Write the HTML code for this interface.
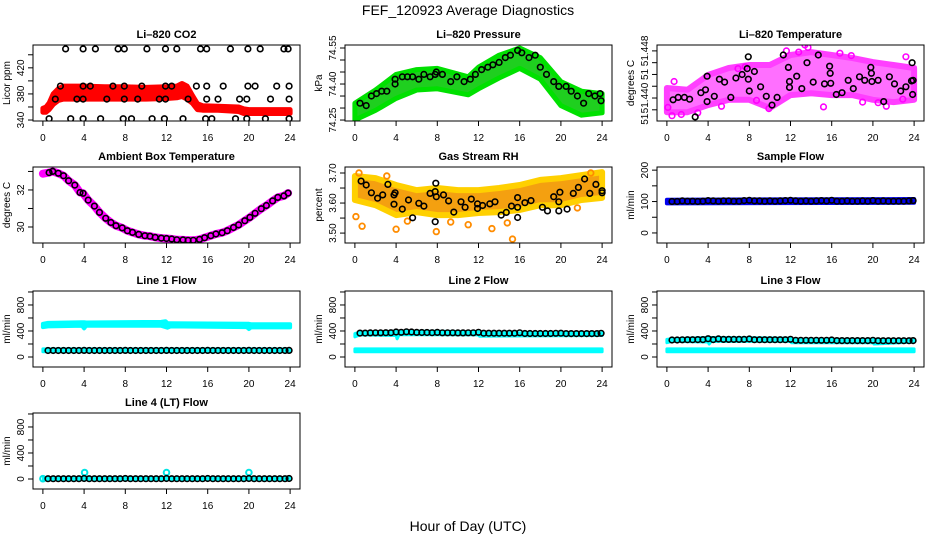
<!DOCTYPE html>
<html><head><meta charset="utf-8"><title>FEF_120923 Average Diagnostics</title>
<style>
html,body{margin:0;padding:0;background:#fff;}
svg{display:block;font-family:"Liberation Sans",Arial,sans-serif;}
.tt{font-weight:bold;font-size:11px;}
.tk{font-size:10px;}
</style></head>
<body>
<svg id="chart" width="936" height="540" viewBox="0 0 936 540" xmlns="http://www.w3.org/2000/svg">
<rect width="936" height="540" fill="#fff"/>
<text x="468" y="15" text-anchor="middle" font-size="14">FEF_120923  Average Diagnostics</text>
<text x="468" y="531" text-anchor="middle" font-size="14">Hour of Day (UTC)</text>
</svg>
<script>
// ---------- data ----------
const xTicks = [0,4,8,12,16,20,24];
// CO2
const co2BandHours = [0,0.3,0.6,1,1.5,2,4,6,8,10,12,13,13.5,14,14.5,15,15.5,17,19,19.5,20,22,24];
const co2BandLo    = [352,352,356,364,370,372,372,372,372,372,373,374,376,372,366,356,355,355,353,350,350,350,350];
const co2BandHi    = [358,360,366,380,388,392,392,391,391,390,391,392,396,392,378,365,362,361,360,357,356,356,356];
const co2BlackHours = [2.2,3.9,5.1,7.3,7.9,10.1,11.9,13.0,15.3,15.9,18.2,19.9,21.1,23.4,23.8,
  1.7,3.9,4.6,6.8,7.9,9.6,11.9,12.5,14.9,15.9,17.5,19.9,20.6,22.7,23.9,
  1.2,3.3,3.9,6.2,7.9,9.2,11.3,11.9,14.1,15.9,17.0,19.1,19.8,22.1,23.9,
  0.6,2.7,3.9,5.6,7.8,8.6,10.6,11.8,13.6,15.8,16.4,18.7,19.8,21.6,23.9];
const co2BlackVals = [449,449,449,449,449,449,449,449,449,449,449,449,449,449,449,
  392,392,392,392,392,392,392,392,392,392,392,392,392,392,392,
  372,372,372,372,372,372,372,372,372,372,372,372,372,372,372,
  342,342,342,342,342,342,342,342,342,342,342,342,342,342,342];
// Pressure
const presBandHours = [0,2,4,6,8,11,12,14,16,18,20,22,24];
const presBandLo = [74.25,74.29,74.34,74.375,74.38,74.355,74.38,74.425,74.465,74.42,74.31,74.27,74.28];
const presBandHi = [74.32,74.375,74.44,74.46,74.465,74.43,74.47,74.52,74.55,74.51,74.41,74.37,74.36];
const presBlackHours = [0.5,1.1,1.6,2.1,2.6,3.1,3.9,3.9,4.6,5.1,5.6,6.2,6.7,7.3,7.8,7.9,8.5,9.3,9.9,10.6,11.2,11.7,12.3,12.9,13.4,14.0,14.6,15.1,15.8,16.2,16.9,17.5,18.0,18.6,19.3,19.8,20.5,21.0,21.6,22.2,22.7,23.3,23.8,23.9];
const presBlackVals = [74.32,74.31,74.35,74.36,74.37,74.37,74.40,74.42,74.43,74.43,74.43,74.42,74.44,74.43,74.44,74.45,74.44,74.41,74.43,74.41,74.42,74.44,74.46,74.47,74.48,74.49,74.51,74.52,74.54,74.53,74.51,74.52,74.47,74.44,74.41,74.39,74.39,74.37,74.35,74.32,74.36,74.35,74.36,74.33];
// Li-820 temperature
const tempBandHours = [0,2,4,6,8,10,12,14,16,18,20,22,24];
const tempBandLo = [51.4376,51.4376,51.4388,51.4397,51.4397,51.4383,51.4405,51.4408,51.4405,51.4405,51.4397,51.4393,51.4397];
const tempBandHi = [51.4417,51.4414,51.4439,51.4451,51.4456,51.4456,51.4473,51.4478,51.4473,51.4468,51.4461,51.4456,51.4451];
const tempMagHours = [0.1,0.5,0.7,1.4,3.0,5.3,6.9,7.6,8.7,11.6,12.8,13.4,13.7,15.2,16.8,19.0,20.5,21.3,22.9,23.2,9.9,17.9];
const tempMagVals  = [51.4384,51.4370,51.4428,51.4372,51.4375,51.4386,51.4450,51.4453,51.4396,51.4480,51.4478,51.4490,51.4486,51.4385,51.4476,51.4393,51.4392,51.4386,51.4398,51.4470,51.4382,51.4472];
const tempBlackHours = [0.6,1.1,1.7,2.2,2.75,3.3,3.75,3.9,3.9,4.6,5.1,5.6,6.2,6.7,7.3,7.8,7.9,7.9,8.0,8.5,9.1,9.65,10.2,10.7,11.3,11.8,11.9,11.9,12.6,13.1,13.6,14.2,14.7,15.3,15.8,15.85,15.9,16.45,17.0,17.6,18.1,18.7,19.2,19.8,19.85,19.9,20.5,21.05,21.6,22.1,22.7,23.2,23.75,23.8,23.85,23.9];
const tempBlackVals = [51.4397,51.4401,51.4401,51.4398,51.4368,51.4409,51.4414,51.4437,51.4394,51.4403,51.4432,51.4427,51.4401,51.4434,51.4440,51.4450,51.4470,51.4432,51.4412,51.4445,51.4419,51.4403,51.4388,51.4401,51.4473,51.4452,51.4428,51.4418,51.4437,51.4416,51.4460,51.4427,51.4473,51.4424,51.4454,51.4442,51.4425,51.4406,51.4409,51.4430,51.4416,51.4436,51.4430,51.4452,51.4442,51.4428,51.4430,51.4394,51.4436,51.4424,51.4412,51.4419,51.4429,51.4460,51.4406,51.4430];
// Ambient box temperature
const ambHours = [0,0.6,0.95,1.5,2.0,2.5,3.1,3.6,3.9,4.4,5.0,5.5,6.1,6.6,7.1,7.7,8.2,8.7,9.3,9.9,10.4,10.9,11.5,12.0,12.5,13.0,13.6,14.1,14.6,15.2,15.7,16.3,16.8,17.4,17.9,18.5,19.0,19.6,20.1,20.6,21.2,21.7,22.3,22.8,23.4,23.8];
const ambVals = [32.88,32.94,33.0,32.9,32.77,32.5,32.26,31.86,31.82,31.45,31.13,30.79,30.47,30.24,30.07,29.95,29.8,29.71,29.6,29.53,29.5,29.44,29.4,29.38,29.35,29.31,29.3,29.28,29.28,29.33,29.42,29.53,29.62,29.69,29.8,29.97,30.11,30.34,30.52,30.74,30.99,31.16,31.41,31.6,31.68,31.83];
// Gas stream RH
const rhBandHours = [0,2,4,6,8,10,12,14,16,18,20,22,24];
const rhBandLo = [3.61,3.593,3.56,3.57,3.56,3.56,3.567,3.57,3.577,3.593,3.593,3.61,3.617];
const rhBandHi = [3.69,3.683,3.66,3.643,3.65,3.643,3.643,3.65,3.66,3.677,3.683,3.693,3.703];
const rhOrangeHours = [0.1,0.7,4.0,5.1,7.9,9.3,11.0,13.3,14.8,15.3,21.6,22.9,0.4,3.1];
const rhOrangeVals  = [3.555,3.523,3.513,3.540,3.505,3.537,3.528,3.515,3.534,3.480,3.584,3.700,3.700,3.690];
const rhBlackHours = [0.6,1.1,1.6,2.2,2.7,3.2,3.8,3.9,3.8,4.6,5.2,5.6,6.2,6.7,7.3,7.8,7.85,7.9,7.8,8.6,9.1,9.6,10.3,10.7,11.3,11.9,11.9,12.4,13.1,13.6,14.2,14.7,15.2,15.8,15.8,15.8,16.5,17.1,18.2,18.7,19.3,19.9,19.8,19.8,20.6,21.2,21.7,22.3,22.8,23.4,24.0,24.0];
const rhBlackVals = [3.673,3.660,3.634,3.616,3.627,3.662,3.627,3.634,3.596,3.580,3.610,3.551,3.599,3.590,3.632,3.638,3.666,3.621,3.538,3.627,3.607,3.570,3.604,3.586,3.613,3.597,3.582,3.592,3.597,3.604,3.560,3.569,3.590,3.586,3.618,3.552,3.601,3.608,3.586,3.574,3.621,3.636,3.604,3.574,3.580,3.632,3.652,3.680,3.632,3.662,3.634,3.641];
// Flows
const flowHours = [0.5,1.0,1.5,2.0,2.5,3.0,3.5,4.0,4.5,5.0,5.5,6.0,6.5,7.0,7.5,8.0,8.5,9.0,9.5,10.0,10.5,11.0,11.5,12.0,12.5,13.0,13.5,14.0,14.5,15.0,15.5,16.0,16.5,17.0,17.5,18.0,18.5,19.0,19.5,20.0,20.5,21.0,21.5,22.0,22.5,23.0,23.5,23.9];
const sampleVals = [100,100,102,101,101,100,101,103,102,101,102,102,101,101,103,104,102,102,101,102,101,102,103,104,102,101,102,101,102,103,102,104,101,101,102,101,101,102,101,103,101,102,101,101,101,101,102,103];
const line1Vals = [100,100,100,100,100,100,100,102,100,100,100,100,100,100,100,101,100,100,100,100,100,100,100,101,100,100,100,100,100,100,100,101,100,100,100,100,100,100,100,101,100,100,100,100,100,100,100,101];
const line2Vals = [368,368,370,372,372,374,374,385,380,388,384,378,376,376,374,378,372,372,372,370,370,372,372,380,366,366,366,366,366,366,366,372,362,362,362,362,362,362,364,366,360,360,360,360,360,360,360,364];
const line3Vals = [262,262,264,266,266,268,268,282,268,278,270,270,270,270,270,276,266,266,266,266,266,266,266,272,256,256,256,256,256,256,256,262,252,252,252,252,252,252,252,256,250,250,250,250,250,250,250,252];
const line4Vals = [5,5,5,5,5,5,5,8,5,5,5,5,5,5,5,8,5,5,5,5,5,5,5,8,5,5,5,5,5,5,5,8,5,5,5,5,5,5,5,8,5,5,5,5,5,5,5,8];
const sampleBandHours = [0,24];
const sampleBandLo = [94,96];
const sampleBandHi = [106,108];
const l1UpHours = [0,0.5,3.8,4.0,4.2,11.5,11.9,12.1,12.4,19.8,20.0,20.2,24];
const l1UpLo = [460,470,480,440,480,480,460,450,470,460,430,455,455];
const l1UpHi = [510,525,535,535,530,540,550,520,520,510,510,505,505];
const lowCyanHours = [0,24];
const lowCyanLo = [80,80];
const lowCyanHi = [125,125];
const l2UpHours = [0,0.5,4,4.1,4.3,12,12.1,24];
const l2UpLo = [310,340,330,280,345,340,320,330];
const l2UpHi = [360,385,395,395,400,390,370,370];
const l3UpHours = [0,0.5,4,4.1,4.3,12,12.1,20,20.1,24];
const l3UpLo = [220,240,230,200,240,240,220,220,200,230];
const l3UpHi = [270,280,300,300,300,290,275,270,270,265];
const l4CyanHours = [0,4.05,12.0,20.0];
const l4CyanVals = [5,100,100,100];

// ---------- layout ----------
const svg = document.getElementById('chart');
const NS = 'http://www.w3.org/2000/svg';
const cols = [{l:33,r:300},{l:345,r:612},{l:657,r:924}];
const rowTop = [45,167,291,413];
const BH = 76;

function mk(tag, attrs, parent){
  const e = document.createElementNS(NS, tag);
  for (const k in attrs) e.setAttribute(k, attrs[k]);
  (parent||svg).appendChild(e);
  return e;
}

function panel(cfg){
  const c = cols[cfg.col], top = rowTop[cfg.row], bot = top + BH;
  const g = mk('g', {});
  
  
  const xs = h => c.l + (h + 0.96) / 25.92 * (c.r - c.l);
  const ys = v => bot - (v - cfg.ymin) / (cfg.ymax - cfg.ymin) * BH;
  const t = mk('text', {x:(c.l+c.r)/2, y:top-7, 'text-anchor':'middle', class:'tt'}, g);
  t.textContent = cfg.title;
  
  
  const yl = mk('text', {x:0, y:0, 'text-anchor':'middle', class:'tk', transform:`translate(${c.l-23},${(top+bot)/2}) rotate(-90)`}, g);
  yl.textContent = cfg.ylab;
  
  
  const cid = 'clip' + cfg.name;
  const cp = mk('clipPath', {id:cid}, g);
  mk('rect', {x:c.l, y:top, width:c.r-c.l, height:BH}, cp);
  const plot = mk('g', {'clip-path':`url(#${cid})`}, g);
  
  
  (cfg.bands||[]).forEach(b => {
    let d = '';
    b.h.forEach((h,i) => { d += (i?'L':'M') + xs(h).toFixed(1) + ',' + ys(b.hi[i]).toFixed(1); });
    for (let i = b.h.length-1; i >= 0; i--) d += 'L' + xs(b.h[i]).toFixed(1) + ',' + ys(b.lo[i]).toFixed(1);
    d += 'Z';
    const p = mk('path', {d:d, fill:b.fill, stroke:b.stroke||b.fill, 'stroke-width':b.sw||5, 'stroke-linejoin':'round', opacity:b.op||1}, plot);
    
    
  });
  (cfg.lines||[]).forEach(L => {
    let d = '';
    L.h.forEach((h,i) => { d += (i?'L':'M') + xs(h).toFixed(1) + ',' + ys(L.v[i]).toFixed(1); });
    const p = mk('path', {d:d, fill:'none', stroke:L.color, 'stroke-width':L.w, 'stroke-linecap':'round', 'stroke-linejoin':'round'}, plot);
    
    
  });
  (cfg.points||[]).forEach(P => {
    const n = Math.min(P.h.length, P.v.length);
    for (let i = 0; i < n; i++){
      const ci = mk('circle', {cx:xs(P.h[i]).toFixed(1), cy:ys(P.v[i]).toFixed(1), r:P.r||2.8, fill:'none', stroke:P.color, 'stroke-width':P.sw||1.6}, plot);
      
      
    }
  });
  const bx = mk('rect', {x:c.l, y:top, width:c.r-c.l, height:BH, fill:'none', stroke:'#000', 'stroke-width':1}, g);
  
  
  const xa = mk('g', {}, g);
  
  
  mk('line', {x1:xs(0), x2:xs(24), y1:bot, y2:bot, stroke:'#000'}, xa);
  xTicks.forEach(v => {
    mk('line', {x1:xs(v), x2:xs(v), y1:bot, y2:bot+5, stroke:'#000'}, xa);
    const tx = mk('text', {x:xs(v), y:bot+20, 'text-anchor':'middle', class:'tk'}, xa);
    tx.textContent = String(v);
    
    
  });
  const ya = mk('g', {}, g);
  
  
  const yt = cfg.yticks;
  mk('line', {x1:c.l, x2:c.l, y1:ys(yt[0]), y2:ys(yt[yt.length-1]), stroke:'#000'}, ya);
  yt.forEach(v => mk('line', {x1:c.l-5, x2:c.l, y1:ys(v), y2:ys(v), stroke:'#000'}, ya));
  cfg.ylabels.forEach((lab,i) => {
    const yy = ys(cfg.ylabelVals[i]);
    const tx = mk('text', {x:0, y:0, 'text-anchor':'middle', class:'tk', transform:`translate(${c.l-9},${yy}) rotate(-90)`}, ya);
    tx.textContent = lab;
    
    
  });
}

const flowTicks = [0,200,400,600,800,1000];
const flowLabs = ['0','400','800'];
const flowLabVals = [0,400,800];

panel({name:'co2', col:0, row:0, title:'Li\u2013820 CO2', ylab:'Licor ppm', ymin:338.5, ymax:455,
  yticks:[340,360,380,400,420,440], ylabels:['340','380','420'], ylabelVals:[340,380,420],
  bands:[{h:co2BandHours, lo:co2BandLo, hi:co2BandHi, fill:'#ff0000', sw:5}],
  points:[{h:co2BlackHours, v:co2BlackVals, color:'#000'}]});
panel({name:'pressure', col:1, row:0, title:'Li\u2013820 Pressure', ylab:'kPa', ymin:74.246, ymax:74.5625,
  yticks:[74.25,74.30,74.35,74.40,74.45,74.50,74.55], ylabels:['74.25','74.40','74.55'], ylabelVals:[74.25,74.40,74.55],
  bands:[{h:presBandHours, lo:presBandLo, hi:presBandHi, fill:'#1fcf1f', stroke:'#00e000', sw:5}],
  points:[{h:presBlackHours, v:presBlackVals, color:'#000'}]});
panel({name:'li820-temperature', col:2, row:0, title:'Li\u2013820 Temperature', ylab:'degrees C', ymin:51.4361, ymax:51.4490,
  yticks:[51.438,51.440,51.442,51.444,51.446,51.448], ylabels:['51.448','51','51.440','51'], ylabelVals:[51.448,51.444,51.440,51.4364],
  bands:[{h:tempBandHours, lo:tempBandLo, hi:tempBandHi, fill:'#ff40ff', stroke:'#ff00ff', sw:6, op:0.75}],
  points:[{h:tempMagHours, v:tempMagVals, color:'#ff00ff'},{h:tempBlackHours, v:tempBlackVals, color:'#000'}]});
panel({name:'ambient-temperature', col:0, row:1, title:'Ambient Box Temperature', ylab:'degrees C', ymin:29.135, ymax:33.24,
  yticks:[30,31,32,33], ylabels:['30','32'], ylabelVals:[30,32],
  lines:[{h:ambHours, v:ambVals, color:'#ff00ff', w:8}],
  points:[{h:ambHours.slice(1), v:ambVals.slice(1), color:'#000'}]});
panel({name:'gas-stream-rh', col:1, row:1, title:'Gas Stream RH', ylab:'percent', ymin:3.467, ymax:3.72,
  yticks:[3.50,3.55,3.60,3.65,3.70], ylabels:['3.50','3.60','3.70'], ylabelVals:[3.50,3.60,3.70],
  bands:[{h:rhBandHours, lo:rhBandLo, hi:rhBandHi, fill:'#f4a010', stroke:'#ffd000', sw:6}],
  points:[{h:rhOrangeHours, v:rhOrangeVals, color:'#ff8c00', sw:1.8},{h:rhBlackHours, v:rhBlackVals, color:'#000'}]});
panel({name:'sample-flow', col:2, row:1, title:'Sample Flow', ylab:'ml/min', ymin:-32, ymax:210,
  yticks:[0,50,100,150,200], ylabels:['0','100','200'], ylabelVals:[0,100,200],
  bands:[{h:sampleBandHours, lo:sampleBandLo, hi:sampleBandHi, fill:'#0000ee', sw:4}],
  points:[{h:flowHours, v:sampleVals, color:'#000'}]});
panel({name:'line1-flow', col:0, row:2, title:'Line 1 Flow', ylab:'ml/min', ymin:-154, ymax:1015,
  yticks:flowTicks, ylabels:flowLabs, ylabelVals:flowLabVals,
  bands:[{h:l1UpHours, lo:l1UpLo, hi:l1UpHi, fill:'#00ffff', sw:4},{h:lowCyanHours, lo:lowCyanLo, hi:lowCyanHi, fill:'#00ffff', sw:3}],
  points:[{h:flowHours, v:line1Vals, color:'#000'}]});
panel({name:'line2-flow', col:1, row:2, title:'Line 2 Flow', ylab:'ml/min', ymin:-154, ymax:1015,
  yticks:flowTicks, ylabels:flowLabs, ylabelVals:flowLabVals,
  bands:[{h:l2UpHours, lo:l2UpLo, hi:l2UpHi, fill:'#00ffff', sw:3},{h:lowCyanHours, lo:lowCyanLo, hi:lowCyanHi, fill:'#00ffff', sw:3}],
  points:[{h:flowHours, v:line2Vals, color:'#000'}]});
panel({name:'line3-flow', col:2, row:2, title:'Line 3 Flow', ylab:'ml/min', ymin:-154, ymax:1015,
  yticks:flowTicks, ylabels:flowLabs, ylabelVals:flowLabVals,
  bands:[{h:l3UpHours, lo:l3UpLo, hi:l3UpHi, fill:'#00ffff', sw:3},{h:lowCyanHours, lo:lowCyanLo, hi:lowCyanHi, fill:'#00ffff', sw:3}],
  points:[{h:flowHours, v:line3Vals, color:'#000'}]});
panel({name:'line4-flow', col:0, row:3, title:'Line 4 (LT) Flow', ylab:'ml/min', ymin:-154, ymax:1015,
  yticks:flowTicks, ylabels:flowLabs, ylabelVals:flowLabVals,
  bands:[{h:[0,24], lo:[-15,-15], hi:[25,25], fill:'#00ffff', sw:2}],
  points:[{h:l4CyanHours, v:l4CyanVals, color:'#00e5e5', sw:2},{h:flowHours, v:line4Vals, color:'#000'}]});
</script>
</body></html>
